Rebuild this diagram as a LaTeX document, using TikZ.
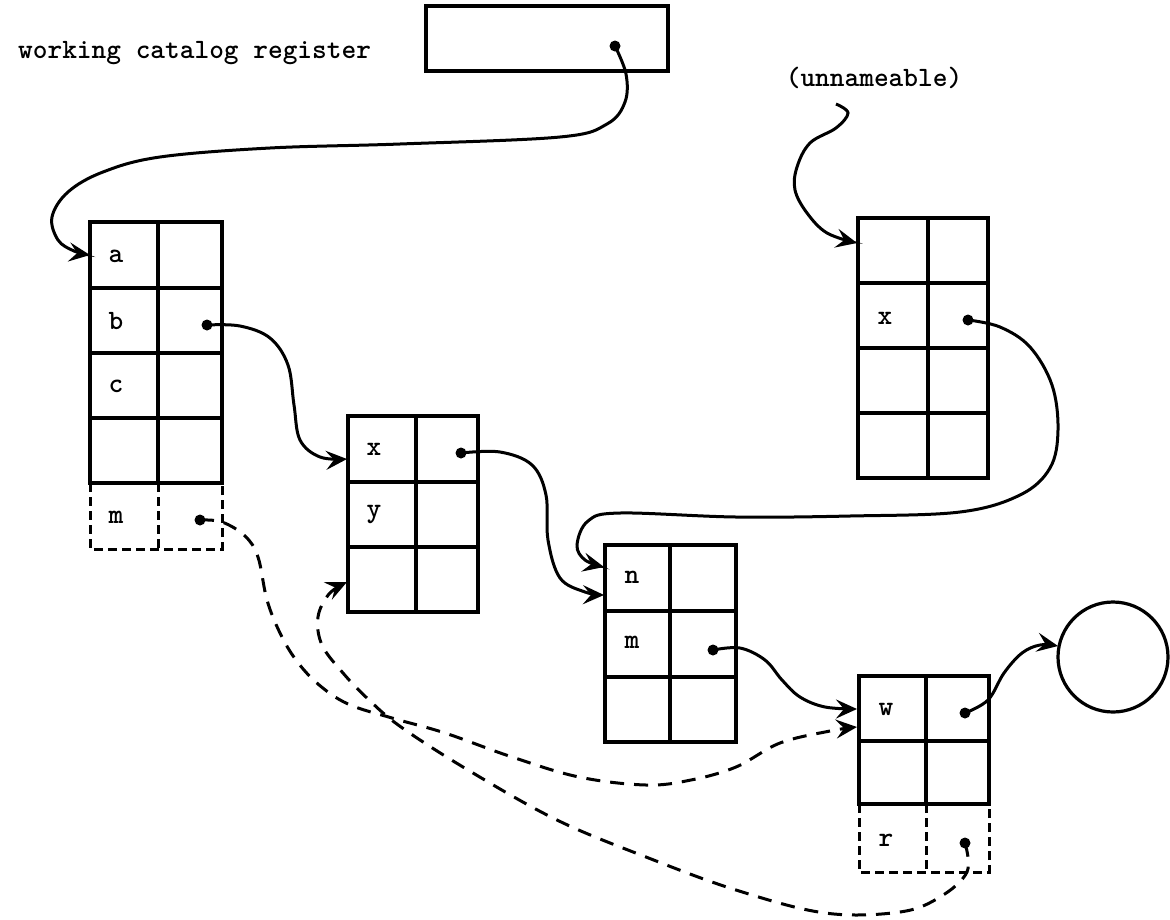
\documentclass[tikz,border=0pt]{standalone}
\usetikzlibrary{arrows.meta}
\begin{document}
\begin{tikzpicture}[x=1pt,y=-1pt,
  grid/.style={line width=3.4pt, line cap=rect},
  dgrid/.style={line width=3pt, dash pattern=on 9pt off 5pt},
  link/.style={line width=3pt, -{Stealth[length=21pt,width=19pt,inset=8pt]}},
  dlink/.style={link, dash pattern=on 14pt off 10pt},
  ptr/.style={fill, circle, inner sep=0pt, minimum size=11pt},
  lbl/.style={font=\ttfamily\bfseries\fontsize{28}{32}\selectfont, inner sep=0pt}]
\useasboundingbox (0,0) rectangle (1170,919);

% working catalog register
\node[lbl, anchor=base west] (wcrtext) at (18,58) {working catalog register};
\draw[grid] (426,6) rectangle (668,71);
\coordinate (wcr) at (615,46);

% catalog with a, b, c (and the dashed m entry)
\draw[grid] (90,222) rectangle (222,483);
\draw[grid] (158,222) -- (158,483);
\foreach \y in {288,353,418} \draw[grid] (90,\y) -- (222,\y);
\draw[dgrid] (90,483) -- (90,549) -- (222,549) -- (222,483);
\draw[dgrid] (158,483) -- (158,549);
\node[lbl] (Aa) at (116,256) {a};
\node[lbl] (Ab) at (116,321) {b};
\node[lbl] (Ac) at (116,386) {c};
\node[lbl] (Am) at (116,517) {m};
\coordinate (Ain) at (90,255);
\coordinate (Abp) at (207,325);
\coordinate (Amp) at (200,520);

% catalog with x, y
\draw[grid] (348,416) rectangle (478,612);
\draw[grid] (416,416) -- (416,612);
\foreach \y in {482,547} \draw[grid] (348,\y) -- (478,\y);
\node[lbl] (Bx) at (374,449) {x};
\node[lbl] (By) at (374,514) {y};
\coordinate (Bin) at (347,459);
\coordinate (Bin2) at (347,582);
\coordinate (Bxp) at (461,453);

% catalog with n, m
\draw[grid] (605,545) rectangle (736,742);
\draw[grid] (670,545) -- (670,742);
\foreach \y in {611,677} \draw[grid] (605,\y) -- (736,\y);
\node[lbl] (Cn) at (632,577) {n};
\node[lbl] (Cm) at (632,642) {m};
\coordinate (Cin) at (604,595);
\coordinate (Cin2) at (604,567);
\coordinate (Cmp) at (713,650);

% unnameable catalog
\node[lbl, anchor=base] (untext) at (874,86) {(unnameable)};
\coordinate (unstart) at (836,104);
\draw[grid] (858,218) rectangle (988,478);
\draw[grid] (928,218) -- (928,478);
\foreach \y in {283,348,413} \draw[grid] (858,\y) -- (988,\y);
\node[lbl] (Xx) at (885,318) {x};
\coordinate (Xin) at (857,243);
\coordinate (Xxp) at (968,320);

% catalog with w (and the dashed r entry)
\draw[grid] (859,676) rectangle (989,804);
\draw[grid] (926,676) -- (926,804);
\draw[grid] (859,741) -- (989,741);
\draw[dgrid] (859,804) -- (859,872) -- (989,872) -- (989,804);
\draw[dgrid] (926,804) -- (926,872);
\node[lbl] (Ww) at (886,709) {w};
\node[lbl] (Wr) at (886,840) {r};
\coordinate (Win) at (857,709);
\coordinate (Win2) at (857,727);
\coordinate (Wwp) at (965,713);
\coordinate (Wrp) at (965,843);

% a file
\node[draw, circle, line width=3.2pt, minimum size=110pt, inner sep=0pt] (file) at (1113,657) {};
\coordinate (fin) at (1058,646);

% pointer dots
\foreach \p in {wcr,Abp,Amp,Bxp,Cmp,Xxp,Wwp,Wrp} \node[ptr] at (\p) {};

% solid pointers
\draw[link] plot[smooth, tension=0.6] coordinates {(wcr) (626,74) (625,102) (607,124) (560,137) (400,144) (270,148) (160,157) (103,172) (68,192) (52,217) (58,240) (74,251) (Ain)};
\draw[link] plot[smooth, tension=0.6] coordinates {(Abp) (240,326) (270,338) (288,365) (294,405) (300,440) (320,457) (Bin)};
\draw[link] plot[smooth, tension=0.6] coordinates {(Bxp) (500,452) (532,465) (546,495) (548,540) (560,578) (585,592) (Cin)};
\draw[link] plot[smooth, tension=0.6] coordinates {(Xxp) (1000,327) (1030,347) (1052,385) (1058,430) (1050,468) (1020,495) (960,512) (850,516) (736,517) (620,513) (588,521) (577,545) (585,560) (Cin2)};
\draw[link] plot[smooth, tension=0.6] coordinates {(Cmp) (740,648) (765,660) (782,680) (800,697) (825,707) (Win)};
\draw[link] plot[smooth, tension=0.6] coordinates {(Wwp) (988,700) (1004,673) (1022,653) (1040,645) (fin)};
\draw[link] plot[smooth, tension=0.6] coordinates {(unstart) (848,113) (836,128) (810,143) (797,167) (795,190) (807,213) (827,233) (Xin)};

% dashed pointers
\draw[dlink] plot[smooth, tension=0.6] coordinates {(Amp) (222,522) (245,536) (258,557) (267,600) (280,633) (296,660) (318,684) (348,704) (392,718) (445,733) (512,757) (579,777) (646,785) (691,780) (736,767) (780,743) (830,731) (Win2)};
\draw[dlink] plot[smooth, tension=0.6] coordinates {(Wrp) (967,872) (940,897) (900,912) (825,913) (736,890) (646,857) (557,820) (468,770) (401,727) (368,699) (343,673) (322,645) (318,617) (329,594) (Bin2)};
\end{tikzpicture}
\end{document}
